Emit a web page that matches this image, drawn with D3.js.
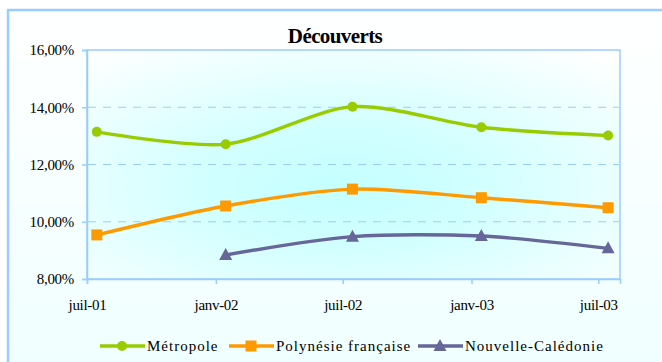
<!DOCTYPE html>
<html><head><meta charset="utf-8">
<script src="https://cdn.jsdelivr.net/npm/d3@7"></script>
<style>body{margin:0;background:#fff}svg{display:block}text{font-family:"Liberation Serif","Times New Roman",serif}</style>
</head><body>
<svg id="c" width="662" height="362"></svg>
<script>
const dates = ["2001-07-15","2002-01-15","2002-07-15","2003-01-15","2003-07-15"];
const metropole = [13.14, 12.71, 14.02, 13.30, 13.01];
const polynesie = [9.54, 10.55, 11.14, 10.84, 10.49];
const caledonie = [null, 8.84, 9.48, 9.50, 9.07];
const seriesNames = ["Métropole", "Polynésie française", "Nouvelle-Calédonie"];
const tickDates = ["2001-07-01","2002-01-01","2002-07-01","2003-01-01","2003-07-01"];
const tickLabels = ["juil-01","janv-02","juil-02","janv-03","juil-03"];
const yTicks = [8, 10, 12, 14, 16];

const FONT = '"Liberation Serif","Times New Roman",serif';
const svg = d3.select("#c");
const defs = svg.append("defs");
const og = defs.append("linearGradient").attr("id","og").attr("x1",0).attr("y1",0).attr("x2",0).attr("y2",1);
og.append("stop").attr("offset","0%").attr("stop-color","#ffffff");
og.append("stop").attr("offset","100%").attr("stop-color","#f0ffff");
const rg = defs.append("radialGradient").attr("id","pg").attr("cx","48%").attr("cy","60%").attr("r","75%");
rg.append("stop").attr("offset","0%").attr("stop-color","#c4ffff");
rg.append("stop").attr("offset","35%").attr("stop-color","#d2ffff");
rg.append("stop").attr("offset","100%").attr("stop-color","#ffffff");

svg.append("rect").attr("x",8).attr("y",10).attr("width",660).attr("height",360)
  .attr("fill","url(#og)").attr("stroke","#99ccff").attr("stroke-width",2.5);

const L=87, T=50, R=620, B=279;
const parse = d3.utcParse("%Y-%m-%d");
const x = d3.scaleUtc().domain([parse("2001-07-01"), parse("2003-08-01")]).range([L, R]);
const y = d3.scaleLinear().domain([8, 16]).range([B, T]);

svg.append("rect").attr("x",L).attr("y",T).attr("width",R-L).attr("height",B-T)
  .attr("fill","url(#pg)").attr("stroke","#99ccff").attr("stroke-width",1.5);

svg.append("g").selectAll("line").data(yTicks.filter(d=>d>8&&d<16)).join("line")
  .attr("x1",L+1).attr("x2",R-1).attr("y1",d=>y(d)).attr("y2",d=>y(d))
  .attr("stroke","#99ccff").attr("stroke-width",1).attr("stroke-dasharray","8,7");

const yAxis = d3.axisLeft(y).tickValues(yTicks).tickSize(5).tickPadding(8)
  .tickFormat(d=>d3.format(".2f")(d).replace(".",",")+"%");
const ya = svg.append("g").attr("transform",`translate(${L},0)`).call(yAxis).attr("font-family",null);
ya.select(".domain").attr("stroke","#99ccff").attr("stroke-width",1.5);
ya.selectAll(".tick line").attr("stroke","#99ccff").attr("stroke-width",1.5);
ya.selectAll("text").style("font-family",FONT).style("font-size","15px").attr("fill","#000").attr("letter-spacing","-0.3");

const xAxis = d3.axisBottom(x).tickValues(tickDates.map(parse)).tickSize(5).tickPadding(15)
  .tickFormat((d,i)=>tickLabels[i]);
const xa = svg.append("g").attr("transform",`translate(0,${B})`).call(xAxis).attr("font-family",null);
xa.select(".domain").attr("stroke","#99ccff").attr("stroke-width",1.5);
xa.selectAll(".tick line").attr("stroke","#99ccff").attr("stroke-width",1.5);
xa.selectAll("text").style("font-family",FONT).style("font-size","15px").attr("fill","#000").attr("letter-spacing","-0.3");

svg.append("text").attr("x",335).attr("y",43).attr("text-anchor","middle")
  .style("font-family",FONT).style("font-weight","bold").style("font-size","21px")
  .attr("letter-spacing","-0.6").text("Découverts");

const colors = ["#99cc00","#ff9900","#666699"];
const data = [metropole, polynesie, caledonie];
const line = d3.line().defined(d=>d.v!=null).x(d=>x(d.t)).y(d=>y(d.v)).curve(d3.curveCardinal.tension(0.15));

function marker(g, kind, cx, cy, color){
  if(kind===0) g.append("circle").attr("cx",cx).attr("cy",cy).attr("r",5).attr("fill",color);
  else if(kind===1) g.append("rect").attr("x",cx-5.5).attr("y",cy-5.5).attr("width",11).attr("height",11).attr("fill",color);
  else g.append("path").attr("d",`M${cx},${cy-7}L${cx+6.5},${cy+5}L${cx-6.5},${cy+5}Z`).attr("fill",color);
}

data.forEach((vals,k)=>{
  const pts = vals.map((v,i)=>({t:parse(dates[i]), v}));
  const g = svg.append("g");
  g.append("path").attr("d", line(pts)).attr("fill","none").attr("stroke",colors[k]).attr("stroke-width",3.4);
  pts.filter(p=>p.v!=null).forEach(p=>marker(g,k,x(p.t),y(p.v),colors[k]));
});

const legX = [100, 229, 418];
seriesNames.forEach((n,k)=>{
  const g = svg.append("g");
  const cy = 346;
  g.append("line").attr("x1",legX[k]).attr("x2",legX[k]+45).attr("y1",cy).attr("y2",cy)
    .attr("stroke",colors[k]).attr("stroke-width",3.4);
  marker(g,k,legX[k]+22,cy,colors[k]);
  g.append("text").attr("x",legX[k]+47).attr("y",cy+5).style("font-family",FONT)
    .style("font-size","15px").attr("letter-spacing","1").text(n);
});
</script>
</body></html>
